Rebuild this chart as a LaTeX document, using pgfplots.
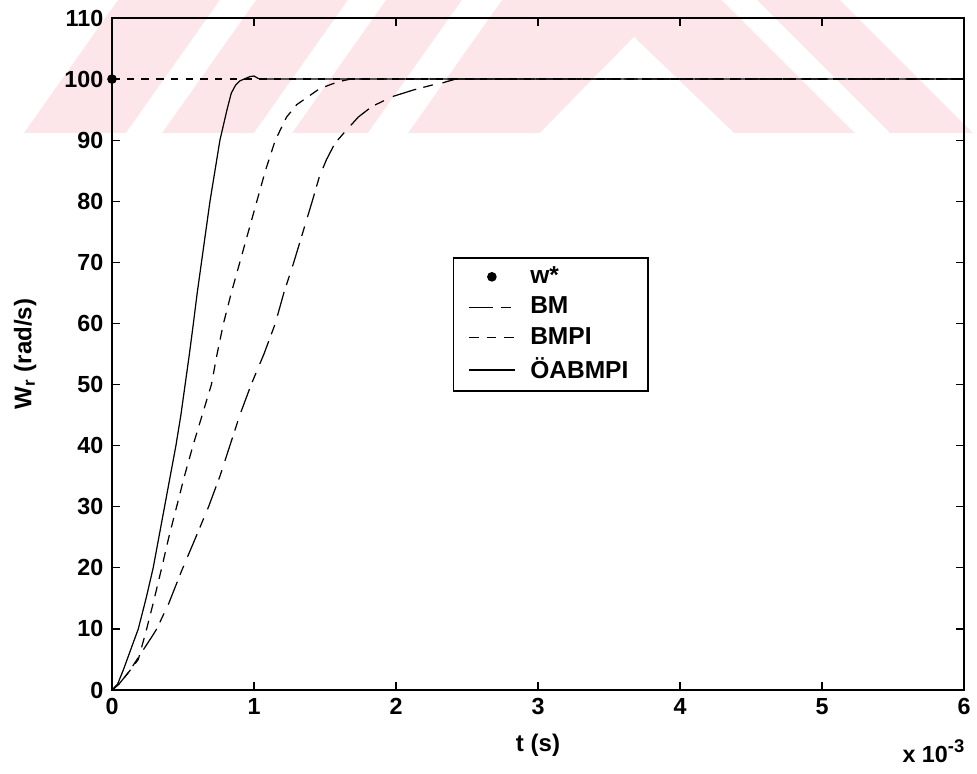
\documentclass[border=0pt]{standalone}
\usepackage{fontspec}
\setmainfont{Liberation Sans}
\usepackage{pgfplots}
\pgfplotsset{compat=1.18}
\usetikzlibrary{calc}
\definecolor{wmpink}{HTML}{FDE6EA}
% one pixel of the reference
\def\pu{0.01433cm}
\pgfplotsset{
  legline/.style={legend image code/.code={\draw[##1] (0cm,0cm) -- (0.66cm,0cm);}},
  legdot/.style={legend image code/.code={\draw[mark repeat=2,mark phase=2,##1] plot coordinates {(0cm,0cm)(0.33cm,0cm)(0.66cm,0cm)};}},
}

\begin{document}
\begin{tikzpicture}
\path[use as bounding box] (0,0) rectangle (14cm,11.077cm);
% faint watermark band at the top
\begin{scope}[shift={(0,11.077cm)}, x=\pu, y=-\pu]
  \fill[wmpink] (24,133) -- (973,133) -- (840,0) -- (118,0) -- cycle;
  \foreach \xa/\xb in {220/256,348/386,462/502}
    \fill[white] (\xa,0) -- (\xb,0) -- (\xb-94,133) -- (\xa-94,133) -- cycle;
  \fill[white] (722,0) -- (757,0) -- (890,133) -- (855,133) -- cycle;
  \fill[white] (540,133) -- (634,37) -- (734,133) -- cycle;
\end{scope}

\begin{axis}[name=ax,
  at={(1.605cm,1.189cm)}, anchor=south west,
  scale only axis, width=12.209cm, height=9.630cm,
  xmin=0, xmax=6, ymin=0, ymax=110,
  xtick={0,1,2,3,4,5,6}, ytick={0,10,...,110},
  axis line style={line width=0.6pt},
  major tick length=3.3pt, tick style={line width=0.5pt, black},
  /pgf/number format/assume math mode=true,
  ticklabel style={font=\fontsize{9.5}{11}\selectfont\bfseries},
  xlabel={t (s)}, ylabel={W\textsubscript{r} (rad/s)},
  label style={font=\fontsize{9.8}{12}\selectfont\bfseries},
  x label style={at={(axis description cs:0.5,-0.0818)}, anchor=center},
  y label style={at={(axis description cs:-0.102,0.5)}, anchor=center},
  clip=false,
  legend cell align=left,
  legend style={at={(0.400,0.644)}, anchor=north west, draw=black,
    line width=0.6pt, font=\fontsize{10}{12}\selectfont\bfseries,
    inner xsep=6pt, inner ysep=3pt, row sep=3pt, column sep=4pt,
    nodes={inner ysep=0.5pt}},
  every axis plot/.append style={line width=0.5pt, black},
  legline,
]
% reference speed w*
\addplot[only marks, mark=*, mark size=1.7pt, legdot] coordinates {(0,100)};
\addlegendentry{w*}
% BM
\addplot[dash pattern=on 10pt off 3pt on 4pt off 4pt] coordinates {
  (0,0)(0.05,1)(0.12,3)(0.19,5.5)(0.28,8.7)(0.315,10)(0.40,14.2)(0.49,19.5)
  (0.59,25)(0.68,30)(0.76,35)(0.83,40)(0.90,45)(0.98,50)(1.07,55)(1.15,60)
  (1.21,65)(1.28,70)(1.345,75)(1.41,80)(1.46,84)(1.51,86.8)(1.57,89.5)
  (1.63,91.1)(1.735,93.8)(1.83,95.5)(1.97,97.1)(2.12,98.2)(2.25,99.0)
  (2.33,99.4)(2.42,100)(6,100)};
\addlegendentry{BM}
% BMPI
\addplot[dash pattern=on 4pt off 3.2pt] coordinates {
  (0,0)(0.05,1)(0.12,3)(0.185,5)(0.244,10)(0.29,14.2)(0.35,20)(0.40,25)
  (0.455,30)(0.51,35)(0.57,40)(0.635,45)(0.70,50)(0.74,55)(0.785,60)
  (0.84,65)(0.90,70)(0.96,75)(1.02,80)(1.08,85)(1.15,90)(1.23,93.8)
  (1.30,95.8)(1.38,97.1)(1.46,98.4)(1.55,99.2)(1.62,99.7)(1.68,100)(6,100)};
\addlegendentry{BMPI}
% OABMPI
\addplot[solid] coordinates {
  (0,0)(0.04,1)(0.08,3.3)(0.13,6.5)(0.185,10)(0.24,15)(0.29,20)(0.33,25)
  (0.37,30)(0.41,35)(0.45,40)(0.485,45)(0.515,50)(0.545,55)(0.573,60)
  (0.60,65)(0.63,70)(0.66,75)(0.69,80)(0.725,85)(0.76,90)(0.79,93)
  (0.81,95)(0.84,97.7)(0.87,99)(0.90,99.7)(0.93,100)(0.97,100.4)
  (1.0,100.5)(1.03,100.1)(1.06,100)(6,100)};
\addlegendentry{ÖABMPI}
% dashed reference line at 100
\addplot[forget plot, dash pattern=on 3pt off 3pt] coordinates {(0,100)(6,100)};
\end{axis}
\node[anchor=base east, font=\fontsize{9.5}{11}\selectfont\bfseries, inner sep=0pt]
  at ($(ax.south east)+(0.01cm,-1.032cm)$) {x 10\raisebox{0.75ex}{\fontsize{7.5}{9}\selectfont\bfseries -3}};
\end{tikzpicture}
\end{document}
